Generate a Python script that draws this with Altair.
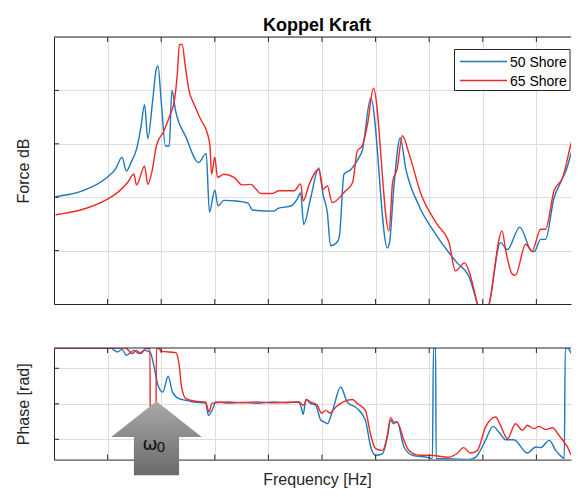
import math
import altair as alt
import pandas as pd

PI = math.pi

# ---------------- data ----------------
# frequency in grid units (axis is unlabelled), force in dB (unlabelled), phase in rad
freq_blue = [0.03, 0.09, 0.53, 0.99, 1.15, 1.27, 1.35, 1.45, 1.54, 1.62, 1.69, 1.75, 1.84, 1.91, 1.94,
             2.00, 2.08, 2.15, 2.20, 2.27, 2.46, 2.70, 2.84, 2.90, 3.00, 3.06, 3.17, 3.40, 3.62, 3.70,
             4.10, 4.18, 4.43, 4.54, 4.60, 4.66, 4.79, 4.94, 5.02, 5.10, 5.16, 5.29, 5.33, 5.41, 5.54,
             5.69, 5.75, 5.91, 6.22, 6.26, 6.34, 6.46, 6.56, 6.81, 7.12, 7.37, 7.52, 7.74, 7.90, 8.00,
             8.12, 8.33, 8.46, 8.69, 8.91, 8.96, 9.08, 9.17, 9.33, 9.45, 9.55, 9.73, 9.82]
force_blue = [20.1, 20.2, 21.2, 23.7, 25.3, 27.5, 24.9, 26.8, 29.0, 33.0, 37.3, 31.0, 38.0, 44.1, 44.6,
              38.0, 29.6, 29.6, 40.0, 36.1, 31.3, 26.5, 28.2, 17.2, 21.3, 18.4, 19.4, 19.3, 18.9, 17.6,
              17.4, 17.9, 18.4, 19.7, 20.8, 14.9, 19.9, 25.5, 20.5, 17.1, 10.9, 11.7, 13.1, 24.3, 25.2,
              27.4, 28.7, 38.6, 10.5, 11.5, 21.8, 31.1, 25.5, 18.4, 13.1, 9.6, 7.7, 5.2, -0.1, -4.0,
              0.0, 11.5, 10.2, 14.4, 9.9, 9.8, 12.1, 12.1, 19.9, 22.7, 24.9, 29.9, 28.0]

freq_red = [0.03, 0.09, 0.53, 0.99, 1.20, 1.37, 1.49, 1.54, 1.69, 1.75, 1.83, 1.91, 2.05, 2.18, 2.24,
            2.30, 2.34, 2.39, 2.45, 2.52, 2.61, 2.74, 2.86, 2.91, 2.94, 3.00, 3.05, 3.17, 3.36, 3.51,
            3.67, 3.86, 4.07, 4.20, 4.48, 4.60, 4.65, 4.76, 4.94, 5.02, 5.10, 5.19, 5.44, 5.57, 5.66,
            5.75, 5.85, 5.96, 6.25, 6.32, 6.40, 6.50, 6.62, 6.84, 7.15, 7.37, 7.49, 7.66, 7.74, 7.90,
            8.00, 8.12, 8.36, 8.43, 8.55, 8.61, 8.80, 8.92, 9.08, 9.17, 9.33, 9.48, 9.72, 9.82]
force_red = [16.7, 16.8, 17.7, 19.6, 21.0, 22.7, 24.3, 22.3, 25.8, 22.4, 24.9, 29.6, 32.4, 35.8, 37.7,
             43.0, 48.6, 48.6, 44.5, 39.9, 37.5, 34.5, 32.0, 29.6, 24.3, 27.5, 23.7, 24.3, 23.7, 22.3,
             22.4, 20.7, 20.7, 21.2, 21.2, 22.5, 19.3, 22.4, 25.2, 21.5, 22.1, 19.0, 21.2, 22.7, 28.7,
             29.6, 33.7, 40.4, 13.7, 23.0, 25.2, 31.5, 28.3, 20.8, 14.9, 11.5, 6.2, 7.7, 6.2, 0.0,
             -4.0, 0.0, 13.7, 9.9, 5.6, 5.4, 11.2, 9.9, 14.0, 14.0, 21.2, 23.4, 31.5, 29.9]

pfreq_blue = [0, 1.06, 1.18, 1.27, 1.35, 1.49, 1.585, 1.68, 1.79, 1.88, 1.94, 2.03, 2.13, 2.21, 2.33,
              2.46, 2.60, 2.83, 2.88, 2.95, 3.02, 3.26, 3.5, 3.8, 4.1, 4.35, 4.57, 4.61, 4.65, 4.70,
              4.79, 4.88, 4.98, 5.04, 5.10, 5.19, 5.35, 5.47, 5.66, 5.81, 5.91, 6.00, 6.13, 6.22, 6.28,
              6.34, 6.40, 6.53, 6.69, 6.99, 7.06, 7.08, 7.12, 7.13, 7.37, 7.74, 7.87, 8.05, 8.19, 8.30,
              8.43, 8.58, 8.83, 8.99, 9.08, 9.24, 9.36, 9.49, 9.52, 9.54, 9.58, 9.67, 9.82]
phase_blue = [PI, PI, 2.92, 3.05, 2.73, 3.01, 2.83, 3.01, 2.92, 1.89, 1.04, 0.66, 1.55, 0.66, 0.29,
              0.20, 0.10, 0.04, -0.65, -0.37, 0.10, 0.04, 0.08, 0.03, 0.10, 0.06, 0.10, -0.18, -0.59, 0.24,
              0.01, -0.07, -0.93, -1.02, -1.12, -0.46, 0.95, 0.10, -0.27, -0.93, -2.43, -2.90, -2.80, -1.87, -0.93,
              -1.12, -1.02, -2.43, -2.90, -3.03, -3.09, 3.14, 3.14, -3.09, -3.09, -3.14, -3.0, -2.06, -1.27, -1.59,
              -2.02, -2.02, -2.77, -2.43, -2.47, -2.06, -2.62, -3.03, -3.10, 3.14, 3.14, 2.73, 1.70]

pfreq_red = [0, 1.335, 1.46, 1.536, 1.62, 1.71, 1.79, 1.80, 1.90, 1.91, 1.96, 2.00, 2.27, 2.33, 2.38,
             2.46, 2.64, 2.83, 2.89, 2.95, 3.26, 3.5, 3.8, 4.1, 4.35, 4.57, 4.66, 4.71, 4.79, 4.91,
             4.99, 5.07, 5.15, 5.26, 5.57, 5.66, 5.81, 5.91, 6.00, 6.13, 6.22, 6.28, 6.34, 6.40, 6.53,
             6.62, 6.81, 7.00, 7.37, 7.52, 7.64, 7.77, 7.90, 8.05, 8.24, 8.33, 8.46, 8.61, 8.74, 8.83,
             8.96, 9.05, 9.17, 9.30, 9.42, 9.58, 9.66, 9.71, 9.82]
phase_red = [PI, PI, 2.83, 3.01, 2.83, 3.11, 3.11, -3.14, -3.14, 3.11, 3.11, 2.95, 2.88, 2.30, 0.95,
             0.29, 0.14, 0.10, -0.46, 0.04, 0.10, 0.06, 0.11, 0.05, 0.09, 0.10, -0.09, 0.24, 0.10, -0.07,
             -0.52, -0.37, -0.52, -0.18, 0.24, 0.01, -0.37, -1.77, -2.52, -2.62, -1.77, -0.78, -1.02, -1.02, -2.06,
             -2.62, -2.90, -2.90, -3.0, -2.80, -2.47, -2.77, -2.62, -1.31, -0.74, -1.21, -1.96, -1.12, -1.49, -1.21,
             -1.40, -1.27, -1.45, -1.35, -1.77, -2.43, -2.90, 2.2, 1.70]

series = ["50 Shore", "65 Shore"]
colors = ["#1f77bd", "#f02828"]
freq_grid = [0, 1, 2, 3, 4, 5, 6, 7, 8, 9]
force_grid = [0, 10, 20, 30, 40, 50]
phase_grid = [-2, 0, 2]
FREQ_MAX = 9.646
arrow_freq = [1.912]
arrow_phase = [-1.94]

# ---------------- layout / style ----------------
W, H1, H2 = 517, 267, 111.6
FRAME = "#262626"
GRID = "#dedede"
FONT = "Liberation Sans"


def series_df(xs, ys, name):
    return pd.DataFrame({"x": xs, "y": ys, "series": name, "i": list(range(len(xs)))})


force_df = pd.concat([series_df(freq_blue, force_blue, series[0]),
                      series_df(freq_red, force_red, series[1])], ignore_index=True)
phase_df = pd.concat([series_df(pfreq_blue, phase_blue, series[0]),
                      series_df(pfreq_red, phase_red, series[1])], ignore_index=True)

xscale = alt.Scale(domain=[0, FREQ_MAX], nice=False, zero=False)
color = alt.Color("series:N", scale=alt.Scale(domain=series, range=colors), legend=None)
one = pd.DataFrame({"a": [0]})


def panel(df, ydomain, yvals, ytitle, h, xtitle):
    yscale = alt.Scale(domain=ydomain, nice=False, zero=False)
    if xtitle:
        xaxis = alt.Axis(values=freq_grid, labels=False, ticks=False, grid=True, domain=True,
                         title=xtitle, titlePadding=12, titleX=W / 2 + 4.5)
    else:
        xaxis = alt.Axis(values=freq_grid, labels=False, ticks=False, grid=True, domain=True, title=None)
    yaxis = alt.Axis(values=yvals, labels=False, ticks=False, grid=True, domain=True,
                     title=ytitle, titleX=-23, titleY=h / 2)
    X = lambda: alt.X("x:Q", scale=xscale, axis=xaxis)
    Y = lambda: alt.Y("y:Q", scale=yscale, axis=yaxis)
    lines = alt.Chart(df).mark_line(strokeWidth=1.4, clip=True, interpolate="monotone").encode(
        x=X(), y=Y(), color=color, order="i:Q")
    xt = pd.DataFrame({"x": freq_grid[1:]})
    yt = pd.DataFrame({"y": [v for v in yvals if ydomain[0] < v < ydomain[1]]})
    top_ticks = alt.Chart(xt).mark_rule(color=FRAME, strokeWidth=1).encode(
        x=X(), y=alt.value(0), y2=alt.value(5))
    bot_ticks = alt.Chart(xt).mark_rule(color=FRAME, strokeWidth=1).encode(
        x=X(), y=alt.value(h - 5), y2=alt.value(h))
    left_ticks = alt.Chart(yt).mark_rule(color=FRAME, strokeWidth=1).encode(
        y=Y(), x=alt.value(0), x2=alt.value(5))
    top_frame = alt.Chart(one).mark_rule(color=FRAME, strokeWidth=1).encode(
        x=alt.value(0), x2=alt.value(W), y=alt.value(0))
    return lines, top_ticks, bot_ticks, left_ticks, top_frame, X, Y


# top panel
l1, tt1, bt1, lt1, tf1, X1, Y1 = panel(force_df, [0, 50], force_grid, "Force dB", H1, None)
leg_box = alt.Chart(one).mark_rect(fill="white", stroke=FRAME, strokeWidth=1).encode(
    x=alt.value(400.5), x2=alt.value(516), y=alt.value(12.5), y2=alt.value(53.5))
leg_layers = [leg_box]
for k, name in enumerate(series):
    yy = 24.5 + 19 * k
    leg_layers.append(alt.Chart(one).mark_rule(color=colors[k], strokeWidth=1.4).encode(
        x=alt.value(406), x2=alt.value(453), y=alt.value(yy)))
    leg_layers.append(alt.Chart(one).mark_text(text=name, align="left", baseline="middle",
                                                fontSize=14, font=FONT, color="#000").encode(
        x=alt.value(456), y=alt.value(yy + 1)))

top = alt.layer(l1, tt1, bt1, lt1, tf1, *leg_layers).properties(
    width=W, height=H1,
    title=alt.TitleParams("Koppel Kraft", fontSize=18, fontWeight="bold", color="#000",
                          anchor="middle", offset=2, dx=4.5, font=FONT))

# bottom panel
l2, tt2, bt2, lt2, tf2, X2, Y2 = panel(phase_df, [-PI, PI], phase_grid, "Phase [rad]", H2, "Frequency [Hz]")
arrow_df = pd.DataFrame({"x": arrow_freq, "y": arrow_phase})
ARROW = "M0,-0.82L1,-0.03L0.5,-0.03L0.5,0.82L-0.5,0.82L-0.5,-0.03L-1,-0.03Z"
grad = alt.LinearGradient(gradient="linear",
                          stops=[alt.GradientStop(color="#a9a9a9", offset=0),
                                 alt.GradientStop(color="#6a6a6a", offset=1)],
                          x1=0, x2=0, y1=0, y2=1)
arrow = alt.Chart(arrow_df).mark_point(shape=ARROW, size=8172, filled=True, fill=grad,
                                       opacity=1, strokeWidth=0).encode(x=X2(), y=Y2())
omega = alt.Chart(arrow_df).mark_text(text="ω", fontSize=18, font="DejaVu Sans", color="#111",
                                      dx=-6.5, dy=7).encode(x=X2(), y=Y2())
sub0 = alt.Chart(arrow_df).mark_text(text="0", fontSize=14, font="DejaVu Sans", color="#111",
                                     dx=4.5, dy=10).encode(x=X2(), y=Y2())

bottom = alt.layer(l2, tt2, bt2, lt2, tf2, arrow, omega, sub0).properties(width=W, height=H2)

chart = alt.vconcat(top, bottom, spacing=42).properties(
    padding={"left": 6, "top": 8, "right": 0, "bottom": 0}
).configure_view(stroke=None).configure_axis(
    domainColor=FRAME, domainWidth=1, gridColor=GRID, gridWidth=1,
    titleFont=FONT, titleFontSize=16, titleFontWeight="normal", titleColor=FRAME
).configure_concat(spacing=42)

chart.save("out.html", embed_options={"renderer": "svg", "actions": False})
